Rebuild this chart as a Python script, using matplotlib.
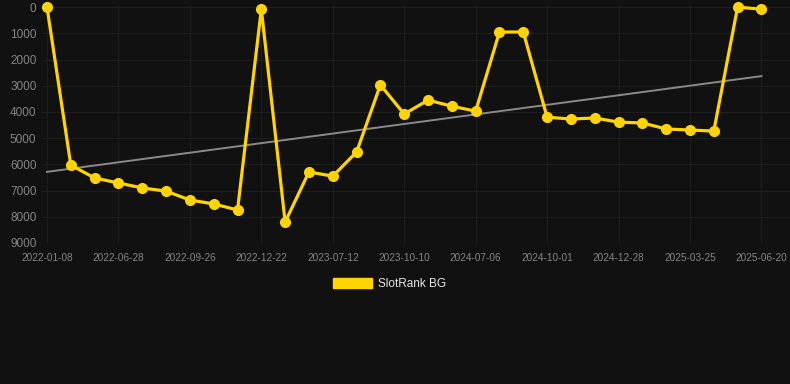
import numpy as np
import matplotlib.pyplot as plt
from matplotlib.patches import Patch

plt.rcParams['font.family'] = ['Liberation Sans', 'DejaVu Sans']

dates = ['2022-01-08', '2022-06-28', '2022-09-26', '2022-12-22', '2023-07-12', '2023-10-10',
         '2024-07-06', '2024-10-01', '2024-12-28', '2025-03-25', '2025-06-20']
tick_idx = [0, 3, 6, 9, 12, 15, 18, 21, 24, 27, 30]

ranks = [0, 6030, 6520, 6710, 6900, 7020, 7360, 7510, 7740, 80, 8200,
         6290, 6450, 5530, 2970, 4080, 3550, 3780, 3970, 950, 950,
         4200, 4270, 4230, 4390, 4420, 4650, 4690, 4730, 0, 80]

bg = '#111111'
gold = '#FFD400'

x = np.arange(len(ranks))
coef = np.polyfit(x, ranks, 1)
trend = np.polyval(coef, x)

fig = plt.figure(figsize=(7.9, 3.84), dpi=100, facecolor=bg)
ax = fig.add_axes([42/790, 1 - 243/384, (790 - 42)/790, (243 - 5)/384])
ax.set_facecolor(bg)

ax.plot(x[[0, -1]], trend[[0, -1]], color='#8a8a8a', lw=1.4, zorder=2)
ax.plot(x, ranks, color=gold, lw=2.3, marker='o', ms=7, zorder=3, clip_on=False)

ax.set_xlim(-0.21, 31.2)
ax.set_ylim(9000, -80)
ax.set_yticks(range(0, 9001, 1000))
ax.set_xticks(tick_idx)
ax.set_xticklabels(dates)
ax.grid(True, color='#1e1e1e', lw=0.8)
ax.tick_params(axis='y', colors='#858585', labelsize=8.5, length=0, pad=4)
ax.tick_params(axis='x', colors='#858585', labelsize=7.2, length=0, pad=7)
for s in ax.spines.values():
    s.set_visible(False)

handle = Patch(facecolor=gold, edgecolor=gold)
fig.legend([handle], ['SlotRank BG'], loc='center', bbox_to_anchor=(389.5/790, 1 - 284/384),
           frameon=False, fontsize=8.5, labelcolor='#e6e6e6', handlelength=3.3,
           handleheight=1.0, handletextpad=0.5)

fig.savefig('out.png', dpi=100, facecolor=bg)
